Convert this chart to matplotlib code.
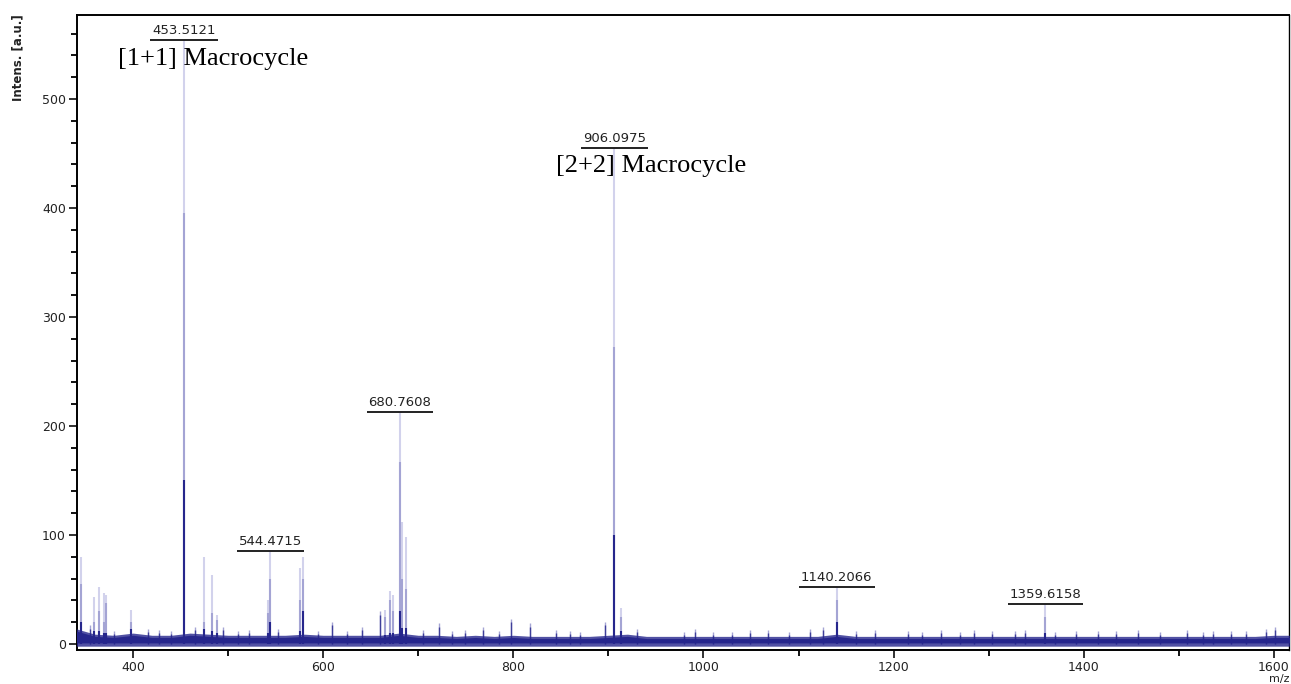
import matplotlib.pyplot as plt
from matplotlib.ticker import MultipleLocator
import numpy as np

# --- spectrum data (m/z vs intensity, a.u.) ---
# main peaks: position, full height, mid-shade height, dark-core height
peak_mz   = [345, 359, 364, 369, 372, 397.5, 453.5121, 475, 483, 488.5,
             541.5, 544.4715, 576, 579, 665, 670, 673, 680.7608, 682.5, 687,
             906.0975, 913, 1140.2066, 1359.6158]
peak_top  = [80, 43, 52, 47, 45, 31, 554, 80, 63, 27,
             40, 85, 70, 80, 31, 49, 45, 213, 112, 98,
             455, 33, 52, 37]
peak_mid  = [55, 20, 30, 20, 38, 20, 395, 20, 28, 22,
             28, 60, 40, 60, 25, 40, 30, 167, 60, 50,
             272, 25, 40, 25]
peak_core = [20, 12, 12, 10, 10, 14, 150, 14, 12, 10,
             10, 20, 12, 30, 8, 10, 10, 30, 15, 15,
             100, 12, 20, 10]

# labelled peaks
label_mz = [453.5121, 544.4715, 680.7608, 906.0975, 1140.2066, 1359.6158]
label_y  = [554, 85, 213, 455, 52, 37]

# small noise spikes sitting on the baseline
grass_mz = [355, 416, 427, 465, 495, 522, 553, 609, 641, 660,
            705, 722, 749, 768, 798, 818, 845, 870, 896, 930,
            980, 991, 1010, 1049, 1068, 1112, 1126, 1180, 1215, 1250,
            1284, 1303, 1328, 1338, 1392, 1434, 1457, 1508, 1536, 1571,
            1592, 1601, 380, 440, 510, 595, 625, 735, 785, 860,
            1030, 1090, 1160, 1230, 1270, 1370, 1415, 1480, 1525, 1555]
grass_h  = [17, 14, 13, 16, 16, 13, 14, 20, 16, 30,
            13, 19, 13, 16, 23, 19, 13, 11, 20, 14,
            11, 14, 11, 13, 13, 14, 16, 13, 12, 13,
            13, 12, 12, 13, 12, 12, 13, 13, 12, 12,
            14, 16, 12, 12, 12, 12, 12, 12, 12, 12,
            11, 11, 12, 11, 11, 11, 12, 11, 11, 12]

# baseline noise envelope sampled every 20 m/z
base_mz = list(range(340, 1621, 20))
base_hi = [14, 9, 8, 10, 8, 8, 10, 9, 8, 8, 8, 8, 9, 8, 8, 8, 8, 10, 8, 8,
           7, 8, 7, 8, 7, 7, 7, 7, 8, 9, 7, 7, 7, 7, 7, 7, 7, 7, 7, 7,
           9, 7, 7, 7, 7, 7, 7, 7, 7, 7, 7, 7, 7, 7, 7, 7, 7, 7, 7, 7,
           7, 7, 7, 8, 8]
base_lo = [-2] * len(base_mz)

light = '#d2d2ec'
mid = '#a4a4d4'
dark = '#26268c'

fig = plt.figure(figsize=(12.91, 6.84), dpi=100)
ax = fig.add_axes([77 / 1291, 34 / 684, 1212 / 1291, 635 / 684])

ax.vlines(peak_mz, 0, peak_top, color=light, lw=1.5, zorder=1)
ax.vlines(peak_mz, 0, peak_mid, color=mid, lw=1.5, zorder=2)
ax.vlines(grass_mz, 0, grass_h, color=mid, lw=1.0, zorder=2)
ax.fill_between(base_mz, base_lo, base_hi, color=dark, lw=0, alpha=0.8, zorder=3)
ax.fill_between(base_mz, 1, np.array(base_hi) - 2, color=dark, lw=0, zorder=3)
ax.vlines(grass_mz, 0, np.array(grass_h) - 3, color=dark, lw=1.0, alpha=0.8, zorder=3)
ax.vlines(peak_mz, 0, peak_core, color=dark, lw=1.5, zorder=4)

ax.set_xlim(341.1, 1615.8)
ax.set_ylim(-5.5, 577)

ax.xaxis.set_major_locator(MultipleLocator(200))
ax.xaxis.set_minor_locator(MultipleLocator(100))
ax.yaxis.set_major_locator(MultipleLocator(100))
ax.yaxis.set_minor_locator(MultipleLocator(20))
ax.tick_params(which='major', length=6, width=1.3, labelsize=9, colors='#222222', pad=2)
ax.tick_params(which='minor', length=4, width=1.3)
for s in ax.spines.values():
    s.set_linewidth(1.4)
ax.spines['right'].set_linewidth(1.0)

# peak labels with underline
labels = []
for mz, y in zip(label_mz, label_y):
    t = ax.annotate(f'{mz:.4f}', xy=(mz, y), xytext=(0, 3), textcoords='offset pixels',
                    ha='center', va='bottom', fontsize=9.5, color='#222222', zorder=6)
    labels.append((t, y))
fig.canvas.draw()
r = fig.canvas.get_renderer()
for t, y in labels:
    bb = t.get_window_extent(r)
    x0 = ax.transData.inverted().transform((bb.x0 - 2, 0))[0]
    x1 = ax.transData.inverted().transform((bb.x1 + 2, 0))[0]
    ax.plot([x0, x1], [y, y], color='#222222', lw=1.4, zorder=6, solid_capstyle='butt')

ax.text(384, 531, '[1+1] Macrocycle', family='Liberation Serif', fontsize=19, zorder=6)
ax.text(845, 433, '[2+2] Macrocycle', family='Liberation Serif', fontsize=19, zorder=6)

fig.text(18 / 1291, 1 - 14 / 684, 'Intens. [a.u.]', rotation=90, ha='center', va='top',
         fontsize=8.5, fontweight='bold', color='#222222')
fig.text(1289 / 1291, 0, 'm/z', ha='right', va='bottom', fontsize=8,
         color='#222222')

fig.savefig('out.png', dpi=100)
